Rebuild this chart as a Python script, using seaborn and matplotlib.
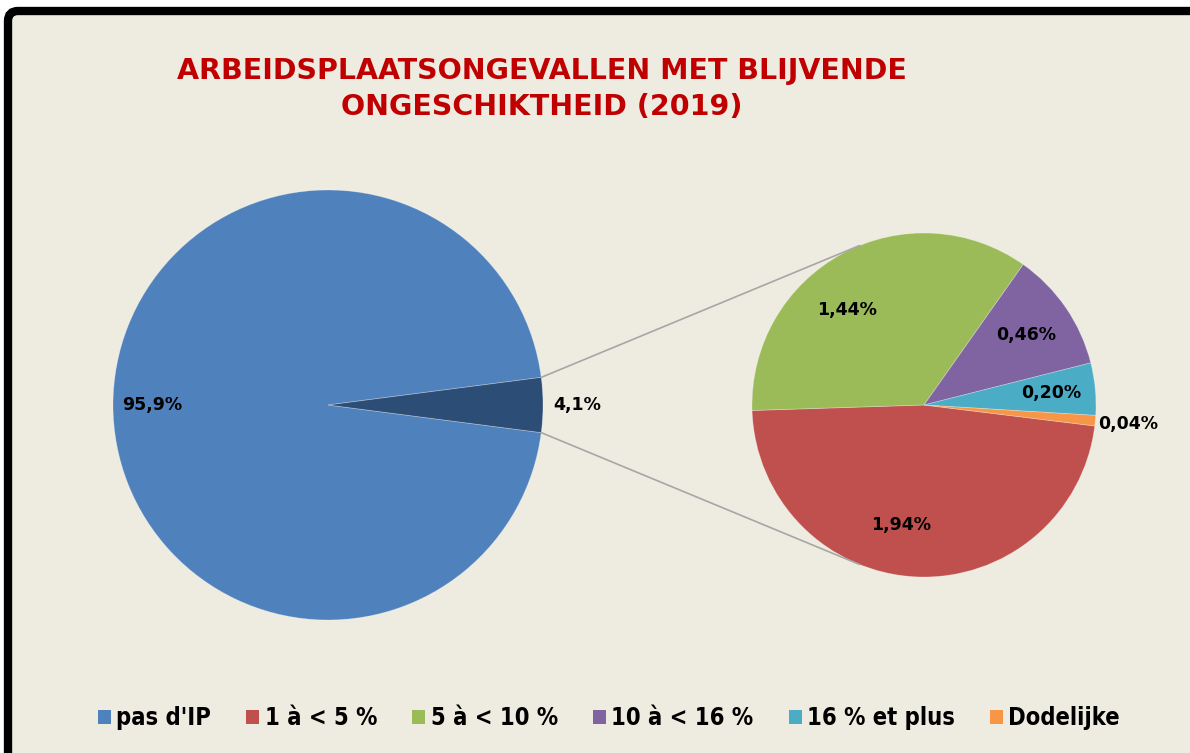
import numpy as np
import matplotlib.pyplot as plt
import seaborn as sns
from matplotlib.patches import FancyBboxPatch, Patch

sns.set_theme(style="white")
plt.rcParams["font.family"] = ["DejaVu Sans"]

# data
title = "ARBEIDSPLAATSONGEVALLEN MET BLIJVENDE\nONGESCHIKTHEID (2019)"
main_labels = ["pas d'IP", "IP"]
main_values = [95.9, 4.1]
main_text = ["95,9%", "4,1%"]
sub_labels = ["1 à < 5 %", "5 à < 10 %", "10 à < 16 %", "16 % et plus", "Dodelijke"]
sub_values = [1.94, 1.44, 0.46, 0.20, 0.04]
sub_text = ["1,94%", "1,44%", "0,46%", "0,20%", "0,04%"]

main_colors = ["#4F81BD", "#2C4D75"]
sub_colors = sns.color_palette(["#C0504D", "#9BBB59", "#8064A2", "#4BACC6", "#F79646"])
bg = "#EEECE1"

W, H = 1190, 753
fig = plt.figure(figsize=(W / 100, H / 100), dpi=100)
fig.patch.set_facecolor("white")
ax = fig.add_axes([0, 0, 1, 1])

# pixel-like coordinates, y up
main_c, main_r = (328, H - 405), 215
sub_c, sub_r = (924, H - 405), 172

small = main_values[1] / sum(main_values) * 360
wedges_main, _ = ax.pie(
    main_values, colors=main_colors, startangle=-small / 2, counterclock=False,
    center=main_c, radius=main_r,
    wedgeprops=dict(linewidth=0.6, edgecolor=(1, 1, 1, 0.3)),
)
wedges_sub, _ = ax.pie(
    sub_values, colors=sub_colors, startangle=-7, counterclock=False,
    center=sub_c, radius=sub_r,
    wedgeprops=dict(linewidth=0.6, edgecolor=(1, 1, 1, 0.3)),
)

# frame
frame = FancyBboxPatch((8, -60), W + 60, H - 11 + 60,
                       boxstyle="round,pad=0,rounding_size=10",
                       facecolor=bg, edgecolor="black", linewidth=6, zorder=0)
ax.add_patch(frame)

# connector lines
for sign in (1, -1):
    a0 = np.deg2rad(sign * small / 2)
    a1 = np.deg2rad(sign * 112)
    ax.plot([main_c[0] + main_r * np.cos(a0), sub_c[0] + sub_r * np.cos(a1)],
            [main_c[1] + main_r * np.sin(a0), sub_c[1] + sub_r * np.sin(a1)],
            color="#A6A6A6", lw=1.2, zorder=1)


def label(wedge, txt, c, r, frac, shift=0):
    ang = np.deg2rad((wedge.theta1 + wedge.theta2) / 2 + shift)
    ax.text(c[0] + r * frac * np.cos(ang), c[1] + r * frac * np.sin(ang), txt,
            ha="center", va="center", fontsize=12.5, fontweight="bold",
            color="black", zorder=5)


label(wedges_main[0], main_text[0], main_c, main_r, 0.82)
label(wedges_main[1], main_text[1], main_c, main_r, 1.16)
for w, t, f, s in zip(wedges_sub, sub_text, [0.71, 0.71, 0.72, 0.745, 1.19],
                      [-8, 11, 0, 0, 0]):
    label(w, t, sub_c, sub_r, f, s)

ax.text(542, H - 89, title, ha="center", va="center", fontsize=20.5,
        fontweight="bold", color="#C00000", linespacing=1.33)

handles = [Patch(facecolor=c, edgecolor="none") for c in [main_colors[0]] + list(sub_colors)]
leg = ax.legend(handles, [main_labels[0]] + sub_labels, loc="center",
                bbox_to_anchor=(609 / W, 35 / H), ncol=6, frameon=False,
                handlelength=0.55, handleheight=0.55, handletextpad=0.22,
                columnspacing=1.5, labelcolor="black",
                prop=dict(family="DejaVu Sans", stretch="condensed",
                          weight="bold", size=17))

ax.set_xlim(0, W)
ax.set_ylim(0, H)
ax.set_aspect("equal")
ax.set_axis_off()

fig.savefig("out.png", dpi=100, facecolor="white")
